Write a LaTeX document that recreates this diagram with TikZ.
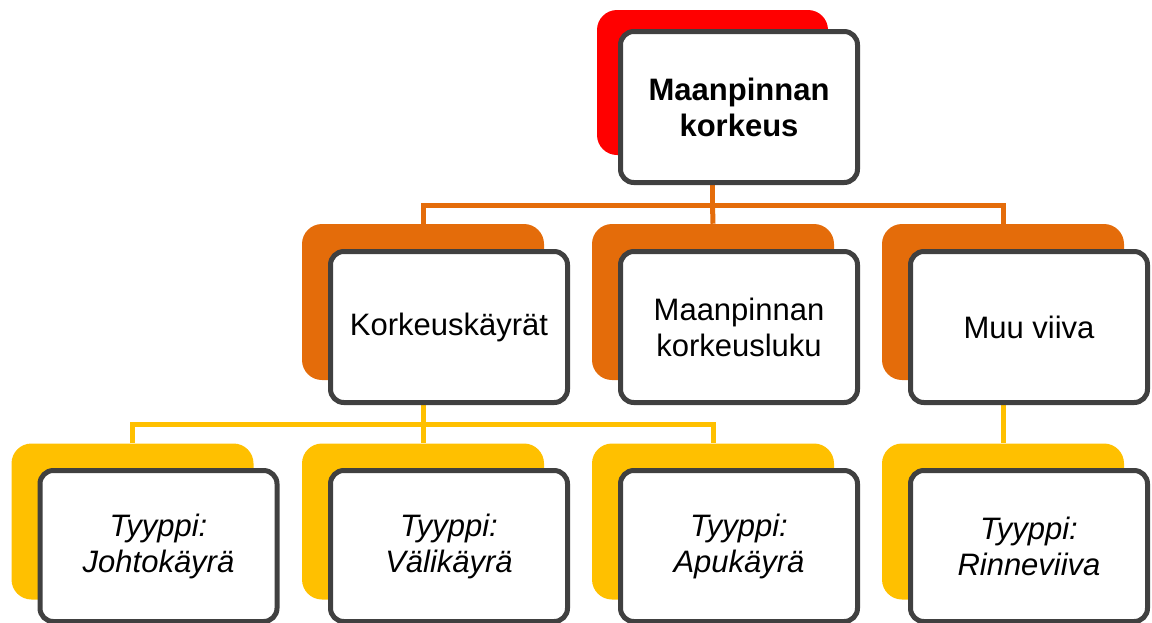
\documentclass[tikz,border=0pt]{standalone}
\usepackage{fontspec}
\setmainfont{Liberation Sans}
\usepackage{tikz}
\usetikzlibrary{backgrounds}

\definecolor{topred}{RGB}{255,0,0}
\definecolor{midorange}{RGB}{228,108,10}
\definecolor{lowyellow}{RGB}{255,192,0}
\definecolor{boxgray}{RGB}{64,64,64}

\begin{document}
\begin{tikzpicture}[x=0.75pt,y=0.75pt,yscale=-1,xscale=1,
  backbox/.style={draw=none,rounded corners=15pt,minimum width=181.5pt,minimum height=117pt,inner sep=0pt},
  frontbox/.style={draw=boxgray,fill=white,line width=3.75pt,rounded corners=10pt,minimum width=177.75pt,minimum height=113.25pt,inner sep=0pt,align=center,font=\fontsize{23.25pt}{27pt}\selectfont},
  leafbox/.style={frontbox,font=\fontsize{23.25pt}{27pt}\selectfont\itshape},
  link/.style={line width=3.75pt}]
\useasboundingbox (0,0) rectangle (1152,622);

\node [backbox,fill=topred,minimum width=173.25pt,minimum height=108.75pt] (rootback) at (712.5,82.5) {};
\node [frontbox] (root) at (739,107) {\textbf{Maanpinnan}\\\textbf{korkeus}};

\node [backbox,fill=midorange] (kayratback) at (423,302) {};
\node [frontbox] (kayrat) at (449,327) {Korkeuskäyrät};
\node [backbox,fill=midorange] (lukuback) at (713,302) {};
\node [frontbox] (luku) at (739,327) {Maanpinnan\\korkeusluku};
\node [backbox,fill=midorange] (muuback) at (1003,302) {};
\node [frontbox] (muu) at (1029,327) {Muu viiva};

\node [backbox,fill=lowyellow] (johtoback) at (132.5,521.5) {};
\node [leafbox] (johto) at (158.5,546) {Tyyppi:\\Johtokäyrä};
\node [backbox,fill=lowyellow] (valiback) at (423,521.5) {};
\node [leafbox] (vali) at (449,546) {Tyyppi:\\Välikäyrä};
\node [backbox,fill=lowyellow] (apuback) at (713,521.5) {};
\node [leafbox] (apu) at (739,546) {Tyyppi:\\Apukäyrä};
\node [backbox,fill=lowyellow] (rinneback) at (1003,521.5) {};
\node [leafbox] (rinne) at (1029,546) {Tyyppi:\\Rinneviiva};

\coordinate (bustop) at (712.5,205);
\coordinate (buslow) at (423,424.5);

\begin{scope}[on background layer]
\draw [link,midorange] (rootback |- root.south) -- (bustop);
\draw [link,midorange] (kayratback.north) |- (bustop) -| (muuback.north);
\draw [link,midorange] (bustop) -- (lukuback.north);
\draw [link,lowyellow] (kayratback |- kayrat.south) -- (buslow);
\draw [link,lowyellow] (johtoback.north) |- (buslow) -| (apuback.north);
\draw [link,lowyellow] (buslow) -- (valiback.north);
\draw [link,lowyellow] (muuback |- muu.south) -- (rinneback.north);
\end{scope}
\end{tikzpicture}
\end{document}
